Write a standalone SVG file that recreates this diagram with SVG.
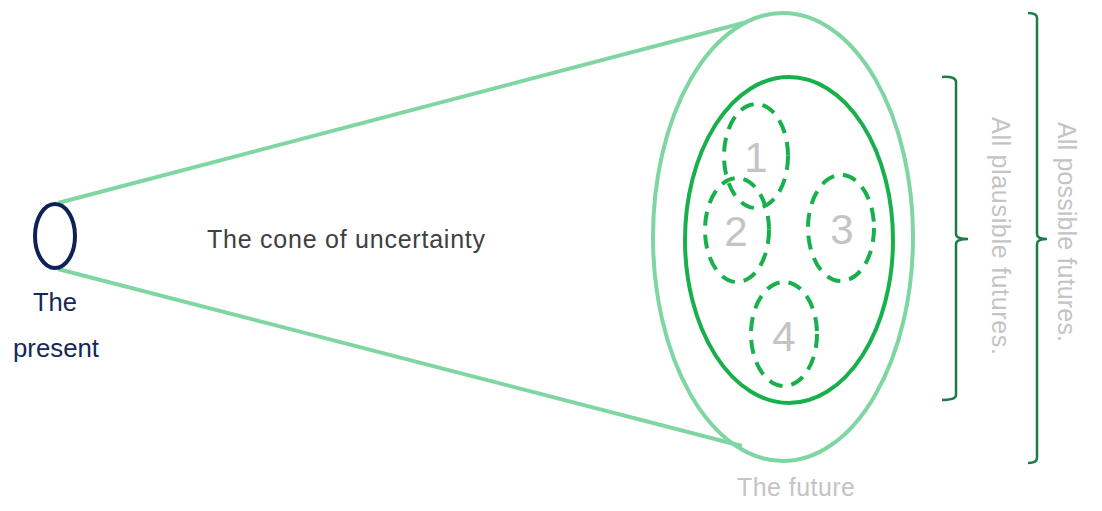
<svg xmlns="http://www.w3.org/2000/svg" width="1102" height="511" viewBox="0 0 1102 511">
<style>
text{font-family:"Liberation Sans",Arial,sans-serif;font-size:25px}
.cone{stroke:#80d6a2;stroke-width:4;fill:none}
.dash{stroke:#18b04c;stroke-width:4;fill:none;stroke-dasharray:14 9}
.num{fill:#c4c4c4;font-size:42px;text-anchor:middle}
.br{stroke:#1b7d45;stroke-width:2.5;fill:none}
.lbl{fill:#c4c4c4;text-anchor:middle}
</style>
<rect width="1102" height="511" fill="#fff"/>
<g id="connectors">
<line class="cone" x1="58" y1="203" x2="747" y2="22"/>
<line class="cone" x1="58" y1="269" x2="742" y2="446"/>
</g>
<g id="present">
<ellipse cx="55" cy="236" rx="20" ry="32" fill="none" stroke="#0d2255" stroke-width="4"/>
<text x="55" y="311" fill="#14285a" text-anchor="middle" textLength="44" lengthAdjust="spacingAndGlyphs">The</text>
<text x="56" y="357" fill="#14285a" text-anchor="middle" textLength="86" lengthAdjust="spacingAndGlyphs">present</text>
</g>
<g id="cone-label">
<text x="207" y="248" fill="#404040" textLength="278">The cone of uncertainty</text>
</g>
<g id="future">
<ellipse cx="783" cy="237" rx="130" ry="224" class="cone"/>
<text x="796" y="496" class="lbl" textLength="118">The future</text>
</g>
<g id="plausible">
<ellipse cx="789" cy="240" rx="104" ry="163" fill="none" stroke="#18b04c" stroke-width="4"/>
</g>
<g id="s1"><ellipse cx="756" cy="156" rx="32" ry="52" class="dash"/><text x="756" y="172" class="num">1</text></g>
<g id="s2"><ellipse cx="737" cy="230" rx="32" ry="52" class="dash"/><text x="736" y="246" class="num">2</text></g>
<g id="s3"><ellipse cx="841" cy="228" rx="33" ry="53" class="dash"/><text x="842" y="244" class="num">3</text></g>
<g id="s4"><ellipse cx="784" cy="334" rx="33" ry="52" class="dash"/><text x="784" y="351" class="num">4</text></g>
<g id="bracket-plausible">
<path class="br" d="M942 77 Q956 76 956 82 L956 234 Q956 239 968 239 Q956 239 956 244 L956 395 Q956 400 942 400"/>
<text class="lbl" transform="translate(992 236) rotate(90)" textLength="238">All plausible futures.</text>
</g>
<g id="bracket-possible">
<path class="br" d="M1028 13 Q1037 13 1037 18 L1037 234 Q1037 239 1047 239 Q1037 239 1037 244 L1037 458 Q1037 463 1028 463"/>
<text class="lbl" transform="translate(1058 232) rotate(90)" textLength="220">All possible futures.</text>
</g>
</svg>
